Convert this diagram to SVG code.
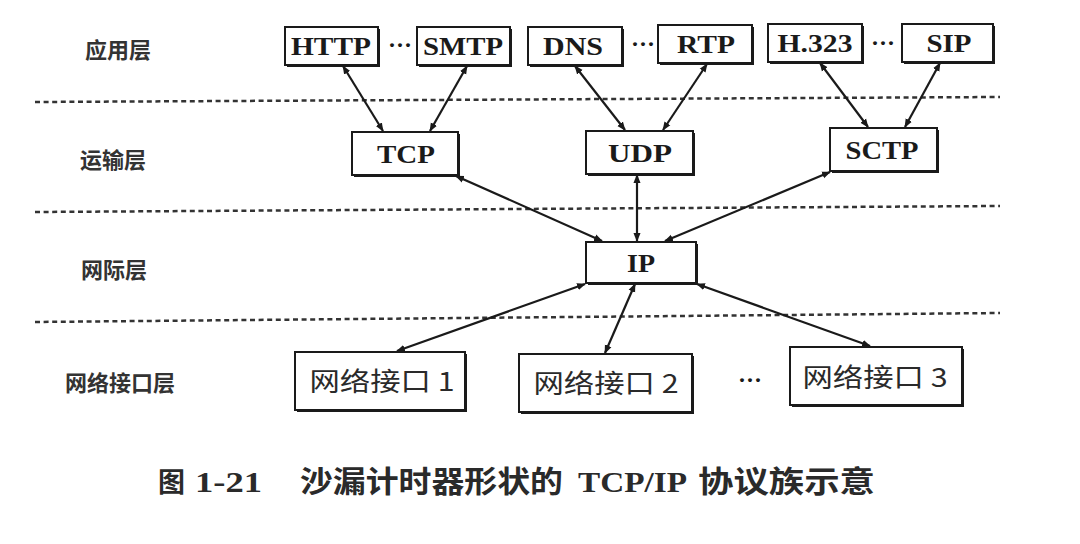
<svg xmlns="http://www.w3.org/2000/svg" width="1080" height="544" viewBox="0 0 1080 544">
<style>
.bx{fill:#fff;stroke:#1a1a1a;stroke-width:2}
.sh{fill:#1a1a1a}
.t{font-family:"Liberation Serif","Times New Roman",serif;font-size:26px;font-weight:bold;fill:#1a1a1a;text-anchor:middle}
.c{font-family:"Noto Sans CJK SC",sans-serif;font-size:26px;fill:#2a2a2a;text-anchor:middle}
.lay{font-family:"Noto Sans CJK SC",sans-serif;font-size:22px;font-weight:bold;fill:#333;text-anchor:middle}
.dl{stroke:#333;stroke-width:2.5;stroke-dasharray:5 3.6;fill:none}
.cn line{stroke:#1a1a1a;stroke-width:2.2;marker-start:url(#ah);marker-end:url(#ah)}
.dots{font-family:"Liberation Serif",serif;font-size:24px;font-weight:bold;fill:#1a1a1a;text-anchor:middle}
.cap{font-family:"Noto Sans CJK SC",sans-serif;font-size:30px;font-weight:bold;fill:#2a2a2a}
.capl{font-family:"Liberation Serif",serif;font-size:30px;font-weight:bold;fill:#2a2a2a}
</style>
<defs>
<marker id="ah" viewBox="0 0 10 10" refX="9" refY="5" markerWidth="4" markerHeight="4" orient="auto-start-reverse">
<path d="M0,1 L10,5 L0,9 z" fill="#1a1a1a"/>
</marker>
</defs>
<rect width="1080" height="544" fill="#fff"/>

<g id="layers">
<text class="lay" x="118" y="58">应用层</text>
<text class="lay" x="113" y="168">运输层</text>
<text class="lay" x="114" y="278">网际层</text>
<text class="lay" x="120" y="391">网络接口层</text>
<line class="dl" x1="35" y1="102" x2="1000" y2="97"/>
<line class="dl" x1="35" y1="212" x2="1000" y2="206"/>
<line class="dl" x1="35" y1="322" x2="1000" y2="313"/>
</g>

<g id="connectors" class="cn">
<line x1="343" y1="66" x2="383" y2="131"/>
<line x1="467" y1="66" x2="430" y2="131"/>
<line x1="575" y1="66" x2="625" y2="130"/>
<line x1="707" y1="64" x2="663" y2="130"/>
<line x1="820" y1="63" x2="868" y2="127"/>
<line x1="940" y1="63" x2="905" y2="127"/>
<line x1="456" y1="176" x2="602" y2="241"/>
<line x1="637" y1="175" x2="637" y2="241"/>
<line x1="830" y1="172" x2="665" y2="241"/>
<line x1="585" y1="284" x2="397" y2="351"/>
<line x1="635" y1="284" x2="605" y2="353"/>
<line x1="697" y1="284" x2="870" y2="346"/>
</g>

<g id="n-http"><rect class="sh" x="287" y="29" width="93" height="38"/><rect class="bx" x="285" y="27" width="93" height="38"/><text class="t" x="331" y="55" textLength="80" lengthAdjust="spacingAndGlyphs">HTTP</text></g>
<text class="dots" x="400" y="53">···</text>
<g id="n-smtp"><rect class="sh" x="419" y="29" width="93" height="38"/><rect class="bx" x="417" y="27" width="93" height="38"/><text class="t" x="463" y="55" textLength="80" lengthAdjust="spacingAndGlyphs">SMTP</text></g>
<g id="n-dns"><rect class="sh" x="530" y="29" width="94" height="38"/><rect class="bx" x="528" y="27" width="94" height="38"/><text class="t" x="573" y="55" textLength="60" lengthAdjust="spacingAndGlyphs">DNS</text></g>
<text class="dots" x="643" y="52">···</text>
<g id="n-rtp"><rect class="sh" x="660" y="27" width="94" height="38"/><rect class="bx" x="658" y="25" width="94" height="38"/><text class="t" x="706" y="53" textLength="58" lengthAdjust="spacingAndGlyphs">RTP</text></g>
<g id="n-h323"><rect class="sh" x="770" y="26" width="94" height="38"/><rect class="bx" x="768" y="24" width="94" height="38"/><text class="t" x="815" y="52" textLength="75" lengthAdjust="spacingAndGlyphs">H.323</text></g>
<text class="dots" x="883" y="51">···</text>
<g id="n-sip"><rect class="sh" x="904" y="26" width="91" height="38"/><rect class="bx" x="902" y="24" width="91" height="38"/><text class="t" x="949" y="52" textLength="45" lengthAdjust="spacingAndGlyphs">SIP</text></g>

<g id="n-tcp"><rect class="sh" x="354" y="134" width="106" height="43"/><rect class="bx" x="352" y="132" width="106" height="43"/><text class="t" x="406" y="163" textLength="58" lengthAdjust="spacingAndGlyphs">TCP</text></g>
<g id="n-udp"><rect class="sh" x="588" y="133" width="107" height="43"/><rect class="bx" x="586" y="131" width="107" height="43"/><text class="t" x="640" y="162" textLength="64" lengthAdjust="spacingAndGlyphs">UDP</text></g>
<g id="n-sctp"><rect class="sh" x="832" y="130" width="107" height="43"/><rect class="bx" x="830" y="128" width="107" height="43"/><text class="t" x="882" y="159" textLength="73" lengthAdjust="spacingAndGlyphs">SCTP</text></g>

<g id="n-ip"><rect class="sh" x="588" y="244" width="110" height="41"/><rect class="bx" x="586" y="242" width="110" height="41"/><text class="t" x="641" y="272" textLength="28" lengthAdjust="spacingAndGlyphs">IP</text></g>

<g id="n-if1"><rect class="sh" x="297" y="354" width="170" height="58"/><rect class="bx" x="295" y="352" width="170" height="58"/><text class="c" x="382" y="391" textLength="145" lengthAdjust="spacingAndGlyphs">网络接口 1</text></g>
<g id="n-if2"><rect class="sh" x="521" y="356" width="173" height="58"/><rect class="bx" x="519" y="354" width="173" height="58"/><text class="c" x="606" y="393" textLength="145" lengthAdjust="spacingAndGlyphs">网络接口 2</text></g>
<text class="dots" x="750" y="388">···</text>
<g id="n-if3"><rect class="sh" x="792" y="349" width="172" height="58"/><rect class="bx" x="790" y="347" width="172" height="58"/><text class="c" x="875" y="387" textLength="145" lengthAdjust="spacingAndGlyphs">网络接口 3</text></g>

<g id="caption">
<text class="cap" x="158" y="492" style="font-size:27px">图</text>
<text class="capl" x="195" y="492" textLength="67" lengthAdjust="spacingAndGlyphs">1-21</text>
<text class="cap" x="300" y="492" textLength="263" lengthAdjust="spacingAndGlyphs">沙漏计时器形状的</text>
<text class="capl" x="578" y="492" textLength="109" lengthAdjust="spacingAndGlyphs">TCP/IP</text>
<text class="cap" x="698" y="492" textLength="177" lengthAdjust="spacingAndGlyphs">协议族示意</text>
</g>
</svg>
